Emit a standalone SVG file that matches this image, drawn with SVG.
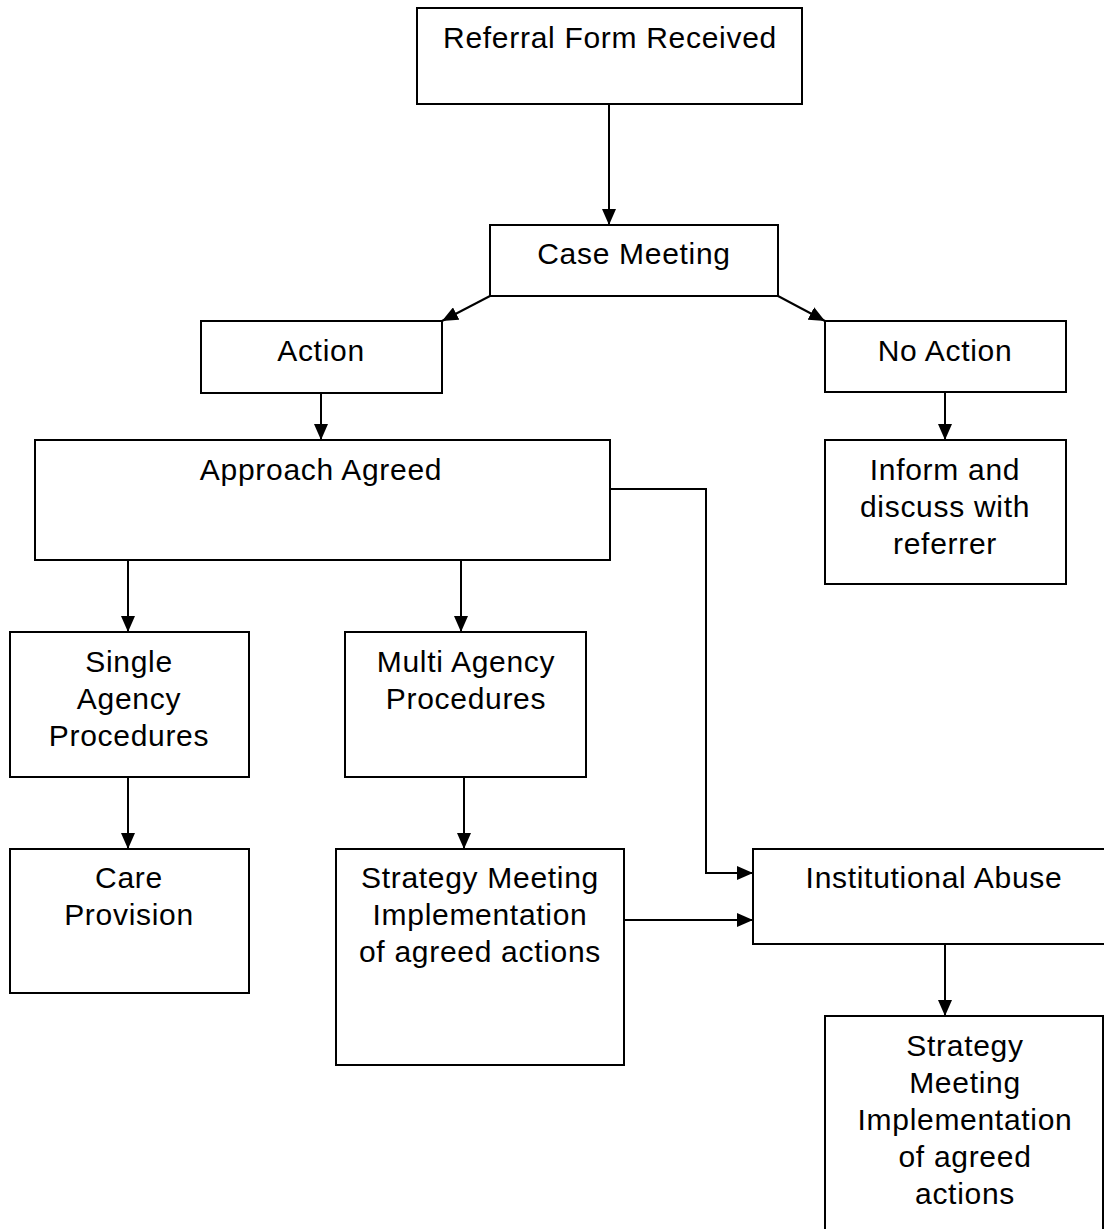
<svg xmlns="http://www.w3.org/2000/svg" width="1104" height="1229" viewBox="0 0 1104 1229">
<style>
.box{fill:#fff;stroke:#000;stroke-width:2}
.t{font-family:"Liberation Sans",Arial,sans-serif;font-size:30px;letter-spacing:0.7px;text-anchor:middle;fill:#000}
.c{fill:none;stroke:#000;stroke-width:2}
</style>
<defs>
<marker id="ah" markerUnits="userSpaceOnUse" markerWidth="16" markerHeight="14" refX="16" refY="7" orient="auto">
<path d="M0,0 L16,7 L0,14 Z" fill="#000"/>
</marker>
</defs>
<rect width="1104" height="1229" fill="#fff"/>
<g id="connectors">
<line class="c" x1="609" y1="104" x2="609" y2="225" marker-end="url(#ah)"/>
<line class="c" x1="490" y1="296" x2="442" y2="321" marker-end="url(#ah)"/>
<line class="c" x1="778" y1="296" x2="825" y2="321" marker-end="url(#ah)"/>
<line class="c" x1="321" y1="393" x2="321" y2="440" marker-end="url(#ah)"/>
<line class="c" x1="945" y1="392" x2="945" y2="440" marker-end="url(#ah)"/>
<polyline class="c" points="610,489 706,489 706,873 753,873" marker-end="url(#ah)"/>
<line class="c" x1="128" y1="560" x2="128" y2="632" marker-end="url(#ah)"/>
<line class="c" x1="461" y1="560" x2="461" y2="632" marker-end="url(#ah)"/>
<line class="c" x1="128" y1="777" x2="128" y2="849" marker-end="url(#ah)"/>
<line class="c" x1="464" y1="777" x2="464" y2="849" marker-end="url(#ah)"/>
<line class="c" x1="624" y1="920" x2="753" y2="920" marker-end="url(#ah)"/>
<line class="c" x1="945" y1="944" x2="945" y2="1016" marker-end="url(#ah)"/>
</g>
<g id="referral"><rect class="box" x="417" y="8" width="385" height="96"/><text class="t" x="610" y="48">Referral Form Received</text></g>
<g id="case-meeting"><rect class="box" x="490" y="225" width="288" height="71"/><text class="t" x="634" y="264">Case Meeting</text></g>
<g id="action"><rect class="box" x="201" y="321" width="241" height="72"/><text class="t" x="321" y="361">Action</text></g>
<g id="no-action"><rect class="box" x="825" y="321" width="241" height="71"/><text class="t" x="945" y="361">No Action</text></g>
<g id="approach"><rect class="box" x="35" y="440" width="575" height="120"/><text class="t" x="321" y="480">Approach Agreed</text></g>
<g id="inform"><rect class="box" x="825" y="440" width="241" height="144"/><text class="t" x="945" y="480">Inform and</text><text class="t" x="945" y="517">discuss with</text><text class="t" x="945" y="554">referrer</text></g>
<g id="single"><rect class="box" x="10" y="632" width="239" height="145"/><text class="t" x="129" y="672">Single</text><text class="t" x="129" y="709">Agency</text><text class="t" x="129" y="746">Procedures</text></g>
<g id="multi"><rect class="box" x="345" y="632" width="241" height="145"/><text class="t" x="466" y="672">Multi Agency</text><text class="t" x="466" y="709">Procedures</text></g>
<g id="care"><rect class="box" x="10" y="849" width="239" height="144"/><text class="t" x="129" y="888">Care</text><text class="t" x="129" y="925">Provision</text></g>
<g id="strategy1"><rect class="box" x="336" y="849" width="288" height="216"/><text class="t" x="480" y="888">Strategy Meeting</text><text class="t" x="480" y="925">Implementation</text><text class="t" x="480" y="962">of agreed actions</text></g>
<g id="institutional"><rect class="box" x="753" y="849" width="360" height="95"/><text class="t" x="934" y="888">Institutional Abuse</text></g>
<g id="strategy2"><rect class="box" x="825" y="1016" width="278" height="230"/><text class="t" x="965" y="1056">Strategy</text><text class="t" x="965" y="1093">Meeting</text><text class="t" x="965" y="1130">Implementation</text><text class="t" x="965" y="1167">of agreed</text><text class="t" x="965" y="1204">actions</text></g>
</svg>
